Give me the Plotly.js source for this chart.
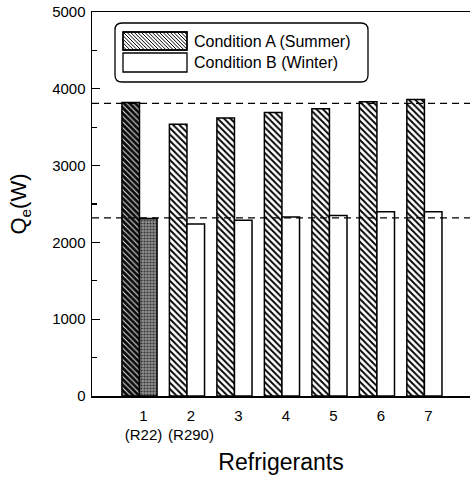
<!DOCTYPE html>
<html>
<head>
<meta charset="utf-8">
<script src="https://cdn.plot.ly/plotly-3.0.1.min.js"></script>
<style>html,body{margin:0;padding:0;background:#fff;}#chart{width:470px;height:478px;}</style>
</head>
<body>
<div id="chart"></div>
<script>
// ---- data ----
const categories = [1, 2, 3, 4, 5, 6, 7];
const tickLabels = ['1<br>(R22)', '2<br>(R290)', '3', '4', '5', '6', '7'];
const summerQe = [3820, 3540, 3620, 3690, 3740, 3830, 3860];
const winterQe = [2310, 2240, 2290, 2330, 2350, 2400, 2400];
const refLines = [3810, 2320];
const seriesNames = ['Condition A (Summer)', 'Condition B (Winter)'];

// ---- geometry helpers (legend drawn by hand) ----
const W = 470, H = 478;
const M = {l: 92, r: 0, t: 12, b: 82};
const PW = W - M.l - M.r, PH = H - M.t - M.b;
const px = x => (x - M.l) / PW;
const py = y => (H - M.b - y) / PH;

function hatchPath(x0, y0, x1, y1, step) {
  let d = '';
  for (let k = x0 - y1; k <= x1 - y0; k += step) {
    const ya = Math.max(y0, x0 - k), yb = Math.min(y1, x1 - k);
    if (yb <= ya) continue;
    d += `M${px(ya + k)},${py(ya)}L${px(yb + k)},${py(yb)}`;
  }
  return d;
}
function roundRect(x0, y0, x1, y1, r) {
  return `M${px(x0 + r)},${py(y0)}L${px(x1 - r)},${py(y0)}` +
    `Q${px(x1)},${py(y0)} ${px(x1)},${py(y0 + r)}` +
    `L${px(x1)},${py(y1 - r)}Q${px(x1)},${py(y1)} ${px(x1 - r)},${py(y1)}` +
    `L${px(x0 + r)},${py(y1)}Q${px(x0)},${py(y1)} ${px(x0)},${py(y1 - r)}` +
    `L${px(x0)},${py(y0 + r)}Q${px(x0)},${py(y0)} ${px(x0 + r)},${py(y0)}Z`;
}

const FONT = '"Liberation Sans", Arial, Helvetica, sans-serif';
const LINE = {color: '#000', width: 1.5};

// first category (R22 baseline) is drawn in its own shading, same offset slot
const traces = [
  {
    type: 'bar', x: categories.slice(0, 1), y: summerQe.slice(0, 1), name: seriesNames[0],
    offsetgroup: 'A',
    marker: {color: '#0a0a0a', line: LINE,
      pattern: {shape: '\\', fgcolor: '#e8e8e8', bgcolor: '#0a0a0a', size: 4, solidity: 0.25}},
    showlegend: false, hoverinfo: 'skip'
  },
  {
    type: 'bar', x: categories.slice(1), y: summerQe.slice(1), name: seriesNames[0],
    offsetgroup: 'A',
    marker: {color: '#ffffff', line: LINE,
      pattern: {shape: '\\', fgcolor: '#000000', bgcolor: '#ffffff', size: 4.5, solidity: 0.42}},
    showlegend: false, hoverinfo: 'skip'
  },
  {
    type: 'bar', x: categories.slice(0, 1), y: winterQe.slice(0, 1), name: seriesNames[1],
    offsetgroup: 'B',
    marker: {color: '#8f8f8f', line: LINE,
      pattern: {shape: '.', fgcolor: '#333333', bgcolor: '#8f8f8f', size: 3, solidity: 0.4}},
    showlegend: false, hoverinfo: 'skip'
  },
  {
    type: 'bar', x: categories.slice(1), y: winterQe.slice(1), name: seriesNames[1],
    offsetgroup: 'B',
    marker: {color: '#ffffff', line: LINE},
    showlegend: false, hoverinfo: 'skip'
  }
];

const shapes = refLines.map(v => ({
  type: 'line', xref: 'paper', yref: 'y', x0: 0, x1: 1, y0: v, y1: v,
  line: {color: '#000', width: 1.2, dash: '7px,5px'}, layer: 'above'
}));

// legend box
shapes.push({type: 'path', xref: 'paper', yref: 'paper', path: roundRect(115, 23, 368, 82, 7),
  line: {color: '#000', width: 1.3}, fillcolor: '#fff'});
// swatch A
shapes.push({type: 'rect', xref: 'paper', yref: 'paper', x0: px(123), x1: px(187), y0: py(32), y1: py(50),
  line: {color: '#000', width: 1.3}, fillcolor: '#fff'});
shapes.push({type: 'path', xref: 'paper', yref: 'paper', path: hatchPath(123, 32, 187, 50, 3.6),
  line: {color: '#000', width: 1}});
shapes.push({type: 'rect', xref: 'paper', yref: 'paper', x0: px(123), x1: px(187), y0: py(32), y1: py(50),
  line: {color: '#000', width: 1.3}, fillcolor: 'rgba(0,0,0,0)'});
// swatch B
shapes.push({type: 'rect', xref: 'paper', yref: 'paper', x0: px(123), x1: px(187), y0: py(53), y1: py(72),
  line: {color: '#000', width: 1.3}, fillcolor: '#fff'});

const annotations = [
  {xref: 'paper', yref: 'paper', x: px(192), y: py(41), xanchor: 'left', yanchor: 'middle',
   text: seriesNames[0], showarrow: false, font: {family: FONT, size: 16, color: '#000'}},
  {xref: 'paper', yref: 'paper', x: px(192), y: py(62), xanchor: 'left', yanchor: 'middle',
   text: seriesNames[1], showarrow: false, font: {family: FONT, size: 16, color: '#000'}}
];

const layout = {
  width: W, height: H,
  margin: M,
  paper_bgcolor: '#fff', plot_bgcolor: '#fff',
  font: {family: FONT, color: '#000'},
  barmode: 'group', bargap: 0.26, bargroupgap: 0,
  showlegend: false,
  xaxis: {
    range: [0, 7.96], tickvals: categories, ticktext: tickLabels, tickangle: 0,
    showgrid: false, zeroline: false, showline: true, linecolor: '#000', linewidth: 1.5,
    mirror: true, ticks: '', tickfont: {family: FONT, size: 15, color: '#000'},
    ticklabelstandoff: 5, ticklabelshift: 4,
    title: {text: 'Refrigerants', font: {family: FONT, size: 23, color: '#000'}, standoff: 12}
  },
  yaxis: {
    range: [0, 5000], dtick: 1000, tick0: 0,
    showgrid: false, zeroline: false, showline: true, linecolor: '#000', linewidth: 1.5,
    ticks: 'inside', ticklen: 8, tickwidth: 1.3, tickcolor: '#000',
    minor: {dtick: 500, ticks: 'inside', ticklen: 5, tickwidth: 1.2, tickcolor: '#000'},
    tickfont: {family: FONT, size: 15, color: '#000'},
    ticklabelstandoff: 2,
    title: {text: 'Q<sub>e</sub>(W)', font: {family: FONT, size: 22, color: '#000'}, standoff: 19}
  },
  shapes: shapes,
  annotations: annotations
};

Plotly.newPlot('chart', traces, layout, {displayModeBar: false, staticPlot: true});
</script>
</body>
</html>
